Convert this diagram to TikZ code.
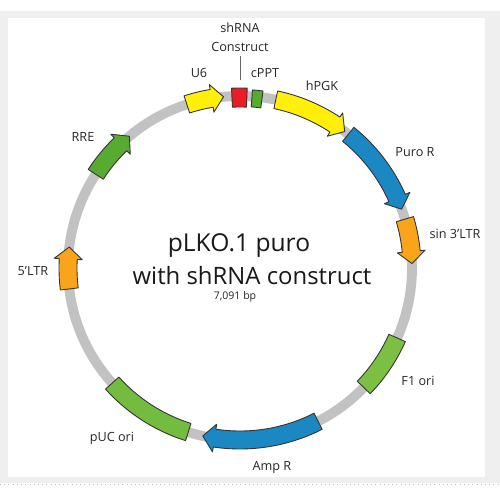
\documentclass[tikz,border=0pt]{standalone}
\usepackage{fontspec}
\setmainfont{Open Sans}

\definecolor{pagegrey}{HTML}{EFEFEF}
\definecolor{bbgrey}{HTML}{C2C2C2}
\definecolor{featyellow}{HTML}{FFEF0A}
\definecolor{featblue}{HTML}{1B88C3}
\definecolor{featorange}{HTML}{F8A51B}
\definecolor{featgreen}{HTML}{56AB30}
\definecolor{featlime}{HTML}{7CC043}
\definecolor{featred}{HTML}{EC1C24}

% clockwise arrow on the ring: start angle, tip angle, colour
\newcommand{\cwarrow}[3]{%
    \pgfmathsetmacro{\headang}{#2+4}%
    \draw[feat, fill=#3] (#1:3.26) arc[start angle=#1, end angle=\headang, radius=3.26]
        -- (\headang:3.16) -- (#2:3.44) -- (\headang:3.72)
        -- (\headang:3.62) arc[start angle=\headang, end angle=#1, radius=3.62] -- cycle;
}
% plain block on the ring: start, end, inner radius, outer radius, colour
\newcommand{\featbox}[5]{%
    \draw[feat, fill=#5] (#1:#3) arc[start angle=#1, end angle=#2, radius=#3]
        -- (#2:#4) arc[start angle=#2, end angle=#1, radius=#4] -- cycle;
}

\begin{document}
\begin{tikzpicture}[
        feat/.style={draw=black!80, line width=0.5pt, line join=round},
        backbone/.style={draw=bbgrey, line width=5.6pt},
        featlabel/.style={font=\fontsize{7.2}{8.6}\selectfont, text=black!85, inner sep=1pt},
        title/.style={font=\fontsize{14}{16}\selectfont, text=black!90, inner sep=0pt}
    ]
    \useasboundingbox (-4.8,-4.64) rectangle (5.2,5.36);
    % page frame
    \fill[pagegrey] (-4.8,-4.3) rectangle (5.2,5.14);
    \fill[white] (-4.64,-4.18) rectangle (4.9,5.0);
    \draw[black!25, dotted, line width=0.4pt] (-4.8,-4.32) -- (5.2,-4.32);

    % ring
    \draw[backbone] (0,0) circle[radius=3.44];

    % features
    \cwarrow{108}{95.5}{featyellow}
    \featbox{92.7}{87.7}{3.22}{3.60}{featred}
    \featbox{86}{82.6}{3.23}{3.57}{featgreen}
    \cwarrow{78}{52.5}{featyellow}
    \cwarrow{51}{20}{featblue}
    \cwarrow{16.5}{1.5}{featorange}
    \featbox{-24}{-44}{3.26}{3.62}{featlime}
    \cwarrow{-63}{-102.5}{featblue}
    \featbox{222}{252.5}{3.26}{3.62}{featlime!80!featgreen}
    \cwarrow{187}{173}{featorange}
    \cwarrow{147}{130}{featgreen}

    % labels
    \node[featlabel, align=center, font=\fontsize{7.2}{10.6}\selectfont] (shrna) at (0,4.62) {shRNA\\Construct};
    \coordinate (shrnabox) at (90:3.76);
    \draw[black!60, line width=0.4pt] ([yshift=-1.5pt]shrna.south) -- (shrnabox);
    \node[featlabel] (u6) at (-0.82,3.9) {U6};
    \node[featlabel] (cppt) at (0.5,3.9) {cPPT};
    \node[featlabel] (hpgk) at (1.64,3.64) {hPGK};
    \node[featlabel] (puro) at (3.5,2.32) {Puro R};
    \node[featlabel] (sinltr) at (4.3,0.68) {sin 3’LTR};
    \node[featlabel] (f1ori) at (3.56,-2.26) {F1 ori};
    \node[featlabel] (ampr) at (0.64,-3.98) {Amp R};
    \node[featlabel] (puc) at (-2.56,-3.4) {pUC ori};
    \node[featlabel] (ltr) at (-4.14,-0.06) {5’LTR};
    \node[featlabel] (rre) at (-3.14,2.62) {RRE};

    % plasmid name
    \node[title] (name) at (-0.02,0.44) {pLKO.1 puro};
    \node[title, font=\fontsize{13.6}{16}\selectfont] (construct) at (0.24,-0.16) {with shRNA construct};
    \node[featlabel, font=\fontsize{6}{7}\selectfont, inner sep=0pt] (size) at (-0.1,-0.57) {7,091 bp};
\end{tikzpicture}
\end{document}
